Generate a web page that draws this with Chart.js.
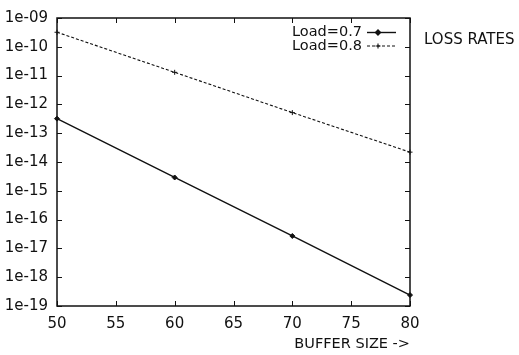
<!DOCTYPE html>
<html><head><meta charset="utf-8">
<script src="https://cdn.jsdelivr.net/npm/chart.js@4/dist/chart.umd.min.js"></script>
<style>html,body{margin:0;padding:0;background:#fff}</style>
</head><body>
<canvas id="c" width="519" height="355"></canvas>
<script>
const bufferSizes = [50, 60, 70, 80];
const load07 = [3.2e-13, 2.9e-15, 2.7e-17, 2.4e-19];
const load08 = [3.2e-10, 1.3e-11, 5.2e-13, 2.2e-14];
const seriesLabels = ['Load=0.7', 'Load=0.8'];
const xTickValues = [50, 55, 60, 65, 70, 75, 80];
const yTickValues = [1e-19, 1e-18, 1e-17, 1e-16, 1e-15, 1e-14, 1e-13, 1e-12, 1e-11, 1e-10, 1e-9];
const yTickLabels = ['1e-19', '1e-18', '1e-17', '1e-16', '1e-15', '1e-14', '1e-13', '1e-12', '1e-11', '1e-10', '1e-09'];
const xTitle = 'BUFFER SIZE ->';
const yTitle = 'LOSS RATES';

const INK = '#111';
const FONT = 'DejaVu Sans';

const framePlugin = {
  id: 'frame',
  afterDatasetsDraw(chart) {
    const {ctx, chartArea: a, scales: {x, y}} = chart;
    ctx.save();
    ctx.strokeStyle = INK;
    ctx.lineWidth = 1.5;
    ctx.strokeRect(a.left, a.top, a.right - a.left, a.bottom - a.top);
    ctx.lineWidth = 1;
    const L = 5;
    ctx.beginPath();
    xTickValues.forEach(v => {
      const px = Math.round(x.getPixelForValue(v)) + 0.5;
      ctx.moveTo(px, a.bottom); ctx.lineTo(px, a.bottom - L);
      ctx.moveTo(px, a.top); ctx.lineTo(px, a.top + L);
    });
    yTickValues.forEach(v => {
      const py = Math.round(y.getPixelForValue(v)) + 0.5;
      ctx.moveTo(a.left, py); ctx.lineTo(a.left + L, py);
      ctx.moveTo(a.right, py); ctx.lineTo(a.right - L, py);
    });
    ctx.stroke();
    ctx.restore();
  },
  afterDraw(chart) {
    const {ctx} = chart;
    ctx.save();
    ctx.fillStyle = INK;
    ctx.strokeStyle = INK;
    ctx.font = '14.5px "' + FONT + '"';
    ctx.textBaseline = 'middle';
    const rows = [32.5, 46];
    chart.data.datasets.forEach((ds, i) => {
      const yy = rows[i];
      ctx.textAlign = 'right';
      ctx.fillText(ds.label, 362, yy);
      ctx.beginPath();
      ctx.lineWidth = ds.borderWidth;
      ctx.setLineDash(ds.borderDash || []);
      ctx.moveTo(367, yy); ctx.lineTo(396, yy);
      ctx.stroke();
      ctx.setLineDash([]);
      Chart.helpers.drawPoint(ctx, {pointStyle: ds.pointStyle, radius: ds.pointRadius, rotation: 0, borderWidth: 1}, 378, yy);
      if (ds.pointStyle === 'rectRot') ctx.fill();
    });
    ctx.textAlign = 'left';
    ctx.font = '15px "' + FONT + '"';
    ctx.fillText(yTitle, 424, 40);
    ctx.restore();
  }
};

new Chart(document.getElementById('c'), {
  type: 'scatter',
  data: {
    datasets: [
      {
        label: seriesLabels[0],
        data: bufferSizes.map((v, i) => ({x: v, y: load07[i]})),
        showLine: true,
        borderColor: INK,
        backgroundColor: INK,
        borderWidth: 1.4,
        pointStyle: 'rectRot',
        pointRadius: 2.5,
        pointBorderWidth: 1,
        clip: false
      },
      {
        label: seriesLabels[1],
        data: bufferSizes.map((v, i) => ({x: v, y: load08[i]})),
        showLine: true,
        borderColor: INK,
        backgroundColor: INK,
        borderWidth: 1.1,
        borderDash: [3, 2],
        pointStyle: 'cross',
        pointRadius: 2.5,
        pointBorderWidth: 1,
        clip: false
      }
    ]
  },
  options: {
    responsive: false,
    animation: false,
    devicePixelRatio: 1,
    layout: {padding: {left: 0, top: 12, right: 109, bottom: 0}},
    plugins: {legend: {display: false}, tooltip: {enabled: false}},
    scales: {
      x: {
        type: 'linear', min: 50, max: 80,
        afterBuildTicks: s => { s.ticks = xTickValues.map(v => ({value: v})); },
        afterFit: s => { s.height = 49; },
        grid: {display: false, drawTicks: false},
        border: {display: false},
        ticks: {autoSkip: false, maxRotation: 0, padding: 9, color: INK, font: {family: FONT, size: 15}},
        title: {display: true, text: xTitle, align: 'end', color: INK, font: {family: FONT, size: 14.5}, padding: {top: 0, bottom: 2}}
      },
      y: {
        type: 'logarithmic', min: 1e-19, max: 1e-9,
        afterBuildTicks: s => { s.ticks = yTickValues.map(v => ({value: v})); },
        afterFit: s => { s.width = 57; },
        grid: {display: false, drawTicks: false},
        border: {display: false},
        ticks: {autoSkip: false, padding: 9, color: INK, font: {family: FONT, size: 15},
          callback: (v, i) => yTickLabels[i]}
      }
    }
  },
  plugins: [framePlugin]
});
</script>
</body></html>
